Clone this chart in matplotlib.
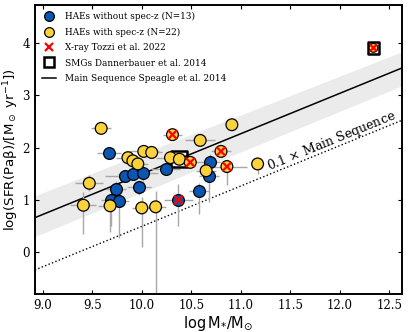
import numpy as np
import matplotlib
matplotlib.use("Agg")
import matplotlib.pyplot as plt
from matplotlib.lines import Line2D

plt.rcParams['font.family'] = ['DejaVu Serif']
plt.rcParams['mathtext.fontset'] = 'dejavusans'

# HAEs without spec-z (blue)
blue_x = [9.67, 9.83, 9.91, 10.01, 10.24, 9.74, 9.97, 9.69, 9.77, 10.69, 10.68, 10.58, 10.37]
blue_y = [1.90, 1.46, 1.49, 1.51, 1.59, 1.21, 1.24, 1.01, 0.99, 1.73, 1.46, 1.18, 1.00]
blue_xerr = [0.12, 0.20, 0.15, 0.15, 0.15, 0.10, 0.12, 0.10, 0.10, 0.10, 0.10, 0.10, 0.15]
blue_yerr_lo = [0.10, 0.10, 0.10, 0.15, 0.10, 0.15, 0.15, 0.50, 0.72, 0.15, 0.50, 0.45, 0.50]
blue_yerr_hi = [0.10, 0.10, 0.10, 0.15, 0.10, 0.15, 0.15, 0.15, 0.15, 0.15, 0.15, 0.15, 0.30]

# HAEs with spec-z (yellow)
yel_x = [9.59, 9.86, 9.91, 9.96, 10.02, 10.10, 9.47, 9.41, 9.68, 10.00, 10.14,
         10.31, 10.59, 10.91, 10.29, 10.38, 10.49, 10.80, 10.86, 10.65, 11.17, 12.34]
yel_y = [2.37, 1.81, 1.75, 1.69, 1.93, 1.91, 1.32, 0.90, 0.89, 0.85, 0.87,
         2.25, 2.14, 2.44, 1.81, 1.78, 1.72, 1.93, 1.64, 1.56, 1.69, 3.91]
yel_xerr = [0.10, 0.12, 0.10, 0.10, 0.15, 0.10, 0.14, 0.13, 0.12, 0.10, 0.10,
            0.10, 0.15, 0.05, 0.15, 0.10, 0.10, 0.10, 0.20, 0.10, 0.05, 0.0]
yel_yerr_lo = [0.05, 0.10, 0.10, 0.10, 0.10, 0.10, 0.15, 0.55, 0.50, 0.75, 1.75,
               0.10, 0.10, 0.05, 0.10, 0.10, 0.10, 0.10, 0.35, 0.15, 0.20, 0.0]
yel_yerr_hi = [0.05, 0.10, 0.10, 0.10, 0.10, 0.10, 0.15, 0.25, 0.20, 0.20, 0.30,
               0.10, 0.10, 0.05, 0.10, 0.10, 0.10, 0.10, 0.15, 0.15, 0.05, 0.0]

# X-ray sources (Tozzi et al. 2022)
xray_x = [10.31, 10.49, 10.80, 10.86, 10.37, 12.34]
xray_y = [2.25, 1.72, 1.93, 1.64, 1.00, 3.91]

# SMGs (Dannerbauer et al. 2014)
smg_x = [10.38, 12.34]
smg_y = [1.78, 3.91]

# Main sequence (Speagle et al. 2014)
ms_slope = 0.772
ms_intercept = -6.224
band_x = [8.92, 12.63]
band_up = [0.42, 0.31]
band_dn = [0.36, 0.34]

blue_c = '#0a56b0'
yel_c = '#fbd23c'

fig = plt.figure(figsize=(4.15, 3.32), dpi=100)
ax = fig.add_axes([0.084, 0.114, 0.885, 0.871])

xl = (8.92, 12.63)
yl = (-0.8, 4.73)
xx = np.linspace(xl[0], xl[1], 100)
ms = ms_slope * xx + ms_intercept
up = np.interp(xx, band_x, band_up)
dn = np.interp(xx, band_x, band_dn)
ax.fill_between(xx, ms - dn, ms + up, color='#ebebeb', lw=0, zorder=0)
ax.plot(xx, ms, color='black', lw=1.1, zorder=1)
ax.plot(xx, ms - 1, color='black', lw=1.0, ls=':', zorder=1)

ek = dict(fmt='none', ecolor='#a8a8a8', elinewidth=1.0, capsize=0, zorder=2)
ax.errorbar(blue_x, blue_y, xerr=blue_xerr, yerr=[blue_yerr_lo, blue_yerr_hi], **ek)
ax.errorbar(yel_x, yel_y, xerr=yel_xerr, yerr=[yel_yerr_lo, yel_yerr_hi], **ek)

ax.scatter(smg_x, smg_y, marker='s', s=[130, 70], facecolor='none', edgecolor='black', lw=1.8, zorder=3)
sizes_y = [72] * (len(yel_x) - 1) + [40]
ax.scatter(blue_x, blue_y, s=72, color=blue_c, edgecolor='black', lw=0.9, zorder=4)
ax.scatter(yel_x, yel_y, s=sizes_y, color=yel_c, edgecolor='black', lw=0.9, zorder=4)
ax.scatter(xray_x, xray_y, marker='x', s=[40, 40, 40, 40, 40, 25], color='red', lw=1.6, zorder=5)

ax.set_xlim(*xl)
ax.set_ylim(*yl)
ax.set_xticks([9.0, 9.5, 10.0, 10.5, 11.0, 11.5, 12.0, 12.5])
ax.set_yticks([0, 1, 2, 3, 4])
ax.tick_params(direction='in', top=True, right=True, labelsize=8.5, length=3, width=0.8)
for s in ax.spines.values():
    s.set_linewidth(1.4)

ax.set_xlabel(r'$\mathrm{log\,M_{*}/M_{\odot}}$', family='DejaVu Sans', fontsize=10.5, labelpad=2)
ax.set_ylabel(r'$\mathrm{log(SFR(Pa\beta)/[M_\odot\ yr^{-1}])}$', family='DejaVu Sans',
              fontsize=9.6, labelpad=1)

# rotated text along the 0.1 x MS line
p1 = ax.transData.transform((10.0, ms_slope * 10 + ms_intercept))
p2 = ax.transData.transform((12.0, ms_slope * 12 + ms_intercept))
ang = np.degrees(np.arctan2(p2[1] - p1[1], p2[0] - p1[0]))
ax.text(11.92, 2.13, r'0.1 $\times$ Main Sequence', rotation=ang, rotation_mode='anchor',
        ha='center', va='center', fontsize=9)

handles = [
    Line2D([], [], ls='none', marker='o', markersize=7, mfc=blue_c, mec='black', mew=0.9),
    Line2D([], [], ls='none', marker='o', markersize=7, mfc=yel_c, mec='black', mew=0.9),
    Line2D([], [], ls='none', marker='x', markersize=6, mec='red', mew=1.6),
    Line2D([], [], ls='none', marker='s', markersize=7, mfc='none', mec='black', mew=1.8),
    Line2D([], [], color='black', lw=1.1),
]
labels = ['HAEs without spec-z (N=13)', 'HAEs with spec-z (N=22)', 'X-ray Tozzi et al. 2022',
          'SMGs Dannerbauer et al. 2014', 'Main Sequence Speagle et al. 2014']
ax.legend(handles, labels, loc='upper left', frameon=False, fontsize=6.4,
          handlelength=1.6, handletextpad=1.0, labelspacing=0.72, borderaxespad=0.4)

fig.savefig('out.png', dpi=100)
